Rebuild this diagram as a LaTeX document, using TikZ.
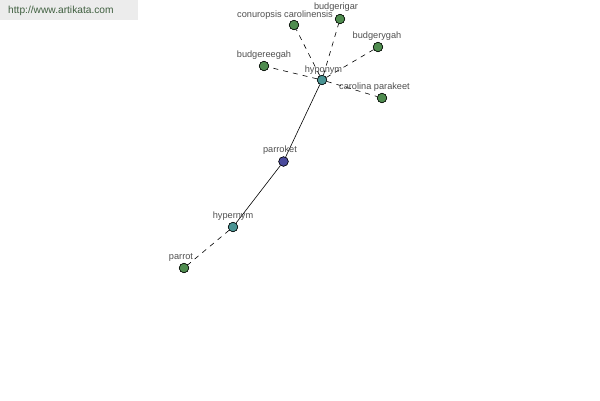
\documentclass[tikz,border=0pt]{standalone}
\usepackage{fontspec}
\setmainfont{Liberation Sans}
\begin{document}
\begin{tikzpicture}[x=1pt,y=-1pt,
  vtx/.style={circle,draw=black,line width=0.5pt,minimum size=9.5pt,inner sep=0pt},
  leafv/.style={vtx,fill=leafc},
  relv/.style={vtx,fill=relc},
  rootv/.style={vtx,fill=rootc},
  lbl/.style={text=txtc,font=\fontsize{9.2}{10}\selectfont,inner sep=0pt,anchor=center},
  dsh/.style={draw=black,line width=0.6pt,dash pattern=on 5pt off 5pt},
  sld/.style={draw=black,line width=0.6pt}]
\definecolor{leafc}{HTML}{4F8C4F}
\definecolor{relc}{HTML}{4A9494}
\definecolor{rootc}{HTML}{4A4A9C}
\definecolor{txtc}{HTML}{505050}
\definecolor{boxc}{HTML}{ECECEC}
\definecolor{urlc}{HTML}{3F5F3F}
\useasboundingbox (0,0) rectangle (600,400);
\fill[white] (0,0) rectangle (600,400);
\node[fill=boxc,minimum width=138pt,minimum height=20pt,anchor=north west,inner sep=0pt] (hdr) at (0,0) {};
\node[text=urlc,font=\fontsize{10.2}{11}\selectfont,anchor=west,inner sep=0pt] (url) at (8,11) {http://www.artikata.com};
% vertices
\node[rootv] (parroket) at (283.5,161.5) {};
\node[relv] (hyponym) at (322,80) {};
\node[relv] (hypernym) at (233,227) {};
\node[leafv] (parrot) at (184,268) {};
\node[leafv] (conur) at (294,25) {};
\node[leafv] (budgerigar) at (340,19) {};
\node[leafv] (budgerygah) at (378,47) {};
\node[leafv] (budgereegah) at (264,66) {};
\node[leafv] (carolina) at (382,98) {};
% edges
\draw[sld] (parroket) -- (hyponym);
\draw[sld] (parroket) -- (hypernym);
\draw[dsh] (hypernym) -- (parrot);
\draw[dsh] (hyponym) -- (conur);
\draw[dsh] (hyponym) -- (budgerigar);
\draw[dsh] (hyponym) -- (budgerygah);
\draw[dsh] (hyponym) -- (budgereegah);
\draw[dsh] (hyponym) -- (carolina);
% redraw vertices on top
\foreach \n/\s in {parroket/rootv,hyponym/relv,hypernym/relv,parrot/leafv,conur/leafv,budgerigar/leafv,budgerygah/leafv,budgereegah/leafv,carolina/leafv}
  \node[\s] at (\n) {};
% labels
\node[lbl] (lparroket) at (280,150.5) {parroket};
\node[lbl] (lhyponym) at (323.5,70) {hyponym};
\node[lbl] (lhypernym) at (233,216.5) {hypernym};
\node[lbl] (lparrot) at (181,257.5) {parrot};
\node[lbl] (lconur) at (285,15) {conuropsis carolinensis};
\node[lbl] (lbudgerigar) at (336,7.5) {budgerigar};
\node[lbl] (lbudgerygah) at (377,36.5) {budgerygah};
\node[lbl] (lbudgereegah) at (264,55.5) {budgereegah};
\node[lbl] (lcarolina) at (374.5,87.5) {carolina parakeet};
\end{tikzpicture}
\end{document}
